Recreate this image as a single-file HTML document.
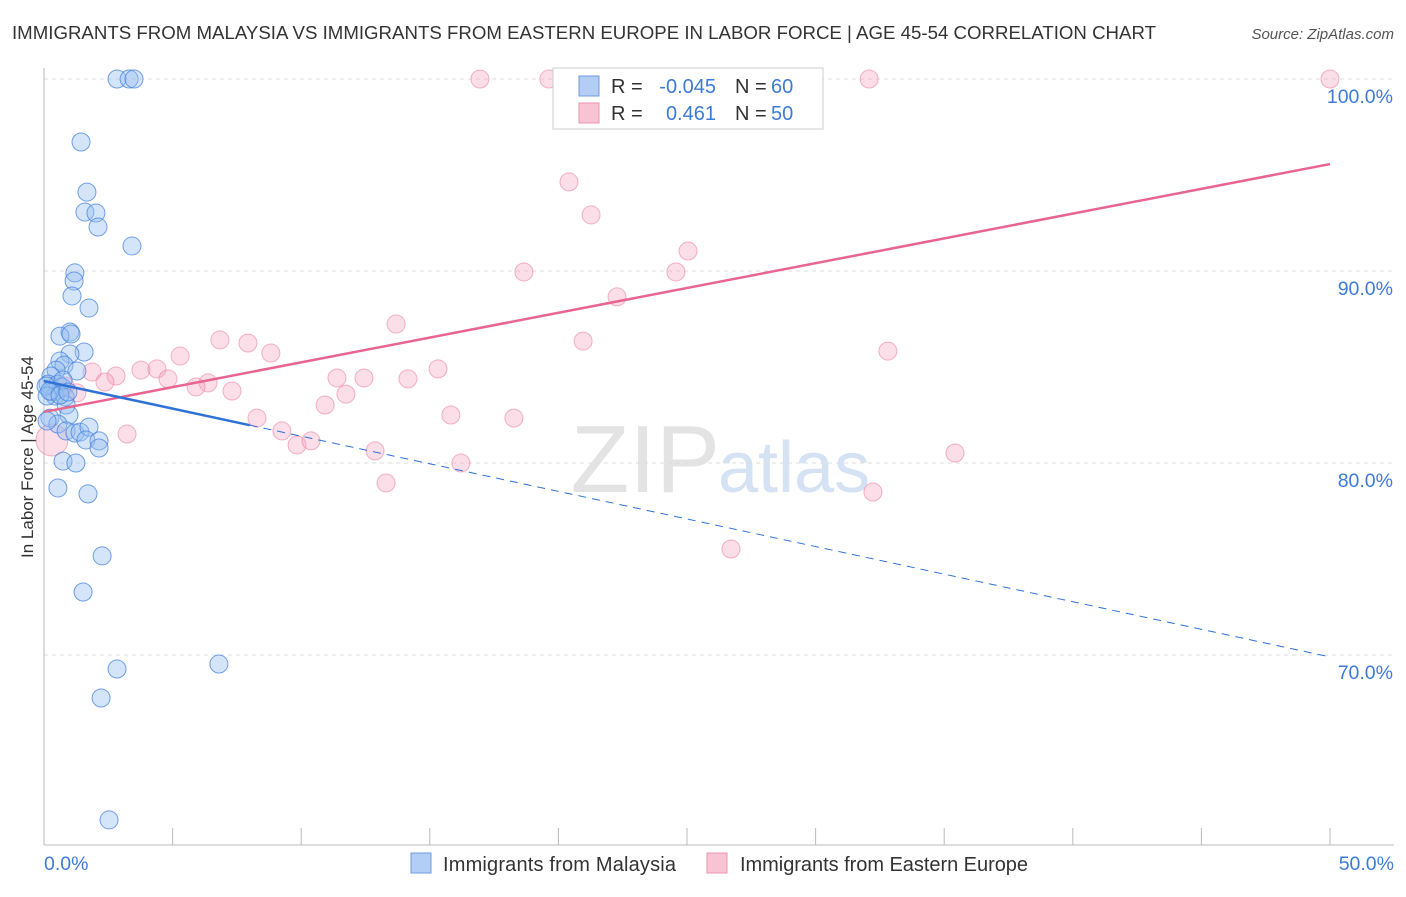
<!DOCTYPE html>
<html><head><meta charset="utf-8"><style>
body{margin:0;background:#fff;font-family:"Liberation Sans",sans-serif;}
svg text{font-family:"Liberation Sans",sans-serif;}
</style></head><body>
<svg id="chart" width="1406" height="892" xmlns="http://www.w3.org/2000/svg">
<text x="12" y="39" font-size="18" fill="#333" textLength="1144" lengthAdjust="spacingAndGlyphs">IMMIGRANTS FROM MALAYSIA VS IMMIGRANTS FROM EASTERN EUROPE IN LABOR FORCE | AGE 45-54 CORRELATION CHART</text>
<text x="1394" y="39" font-size="15" fill="#555" text-anchor="end" font-style="italic">Source: ZipAtlas.com</text>
<text transform="translate(33,457) rotate(-90)" font-size="17" fill="#333" text-anchor="middle">In Labor Force | Age 45-54</text>
<text x="720" y="492" font-size="96" fill="#e3e3e3" text-anchor="end" font-family="Liberation Serif">ZIP</text>
<text x="718" y="492" font-size="72" fill="#d4e2f4">atlas</text>
<g id="grid"></g><g id="marks"></g>
<g>
<rect x="553" y="68" width="270" height="61" fill="#fff" stroke="#ccc"/>
<rect x="579" y="76" width="20" height="20" fill="#b4cdf4" stroke="#6f9be0"/>
<rect x="579" y="103" width="20" height="20" fill="#f8c4d4" stroke="#ee93b1"/>
<text x="611" y="93" font-size="20" fill="#333">R =</text>
<text x="716" y="93" font-size="20" fill="#3d7bd6" text-anchor="end">-0.045</text>
<text x="735" y="93" font-size="20" fill="#333">N =</text>
<text x="771" y="93" font-size="20" fill="#3d7bd6">60</text>
<text x="611" y="120" font-size="20" fill="#333">R =</text>
<text x="716" y="120" font-size="20" fill="#3d7bd6" text-anchor="end">0.461</text>
<text x="735" y="120" font-size="20" fill="#333">N =</text>
<text x="771" y="120" font-size="20" fill="#3d7bd6">50</text>
</g>
<g>
<rect x="411" y="853" width="20" height="20" fill="#b4cdf4" stroke="#6f9be0"/>
<text x="443" y="871" font-size="20" fill="#333" textLength="233">Immigrants from Malaysia</text>
<rect x="707" y="853" width="20" height="20" fill="#f8c4d4" stroke="#ee93b1"/>
<text x="740" y="871" font-size="20" fill="#333" textLength="288">Immigrants from Eastern Europe</text>
</g>
</svg>
<script>
const yTicks=[70,80,90,100];
const yTickLabels=["70.0%","80.0%","90.0%","100.0%"];
const xTickLabels=["0.0%","50.0%"];
const blueX=[2.84,3.31,3.5,1.44,1.67,1.59,2.02,2.1,3.42,1.2,1.17,1.09,1.75,1.01,0.62,1.05,1.56,1.01,0.62,0.78,1.28,0.47,0.27,0.16,0.54,0.7,0.31,0.43,0.82,0.86,0.97,0.23,0.54,0.86,1.2,1.4,1.75,1.63,2.14,2.14,0.74,1.24,0.54,1.71,2.26,1.52,2.84,6.8,2.22,2.53,0.08,0.12,0.23,0.74,0.12,0.62,0.93];
const blueY=[100,100,100,96.72,94.11,93.07,93.02,92.29,91.3,89.9,89.48,88.7,88.07,86.82,86.61,86.72,85.78,85.68,85.31,85.1,84.79,84.84,84.53,84.11,84.11,83.96,83.7,83.49,83.44,83.02,82.5,82.34,82.03,81.67,81.56,81.61,81.87,81.2,81.15,80.78,80.1,80,78.7,78.39,75.16,73.28,69.27,69.53,67.76,61.41,84.01,83.49,83.75,84.32,82.19,83.54,83.7];
const pinkX=[16.95,19.63,26.28,29.51,32.08,50,20.41,21.27,25.04,18.66,24.57,22.28,13.69,6.84,7.93,20.96,32.81,8.82,5.29,3.77,4.39,1.87,2.8,4.82,2.37,6.38,5.91,7.31,11.39,12.44,14.15,15.32,11.74,10.93,1.28,0.82,15.82,18.27,8.28,9.25,3.23,9.84,10.38,12.87,16.21,13.3,35.42,32.23,26.71,0.31];
const pinkY=[100,100,100,100,100,100,94.64,92.92,91.04,89.95,89.95,88.65,87.24,86.41,86.25,86.35,85.83,85.73,85.57,84.84,84.9,84.74,84.53,84.38,84.22,84.17,83.96,83.75,84.43,84.43,84.38,84.9,83.59,83.02,83.65,84.01,82.5,82.34,82.34,81.67,81.51,80.94,81.15,80.63,80,78.96,80.52,78.49,75.52,81.2];
const blueFit=[84.27,69.9], pinkFit=[82.66,95.57];
const X=v=>44+v*25.72, Y=v=>79+(100-v)*19.2;
const NS="http://www.w3.org/2000/svg";
function mk(t,a,p){const e=document.createElementNS(NS,t);for(const k in a)e.setAttribute(k,a[k]);p.appendChild(e);return e;}
const g=document.getElementById('grid'), m=document.getElementById('marks');
yTicks.forEach((t,i)=>{
 const l=mk('line',{x1:44,x2:1394,y1:Y(t),y2:Y(t),stroke:'#ddd','stroke-dasharray':'4,4'},g);
 
 
 const tx=mk('text',{x:1393,y:Y(t)+24,'font-size':19.5,fill:'#3d7bd6','text-anchor':'end'},g);
 tx.textContent=yTickLabels[i];
 
 
});
const ax=mk('line',{x1:44,x2:44,y1:68,y2:845,stroke:'#bbb'},g);


const bx=mk('line',{x1:44,x2:1394,y1:845,y2:845,stroke:'#bbb'},g);


for(let i=0;i<=10;i++){const t=mk('line',{x1:X(i*5),x2:X(i*5),y1:828,y2:845,stroke:'#bbb'},g);
 
 }
[[0,'start',44],[50,'end',1394]].forEach((d,i)=>{const t=mk('text',{x:d[2],y:870,'font-size':19.5,fill:'#3d7bd6','text-anchor':d[1]},g);t.textContent=xTickLabels[i];
 
 });
pinkX.forEach((x,i)=>{const c=mk('circle',{cx:X(x),cy:Y(pinkY[i]),r:i==pinkX.length-1?16:9,fill:'rgba(244,160,190,0.35)',stroke:'rgba(236,130,165,0.6)'},m);
 
 });
blueX.forEach((x,i)=>{const c=mk('circle',{cx:X(x),cy:Y(blueY[i]),r:9,fill:'rgba(150,190,240,0.4)',stroke:'rgba(70,130,220,0.75)'},m);
 
 });
const bf=v=>blueFit[0]+(blueFit[1]-blueFit[0])*v/50;
const l1=mk('line',{x1:X(0),y1:Y(pinkFit[0]),x2:X(50),y2:Y(pinkFit[1]),stroke:'#e8658f','stroke-width':2.5},m);


const l2=mk('line',{x1:X(0),y1:Y(bf(0)),x2:X(8),y2:Y(bf(8)),stroke:'#2f72d6','stroke-width':2.5},m);


const l3=mk('line',{x1:X(8),y1:Y(bf(8)),x2:X(50),y2:Y(bf(50)),stroke:'#2f72d6','stroke-width':1,'stroke-dasharray':'8,6'},m);


</script>
</body></html>
